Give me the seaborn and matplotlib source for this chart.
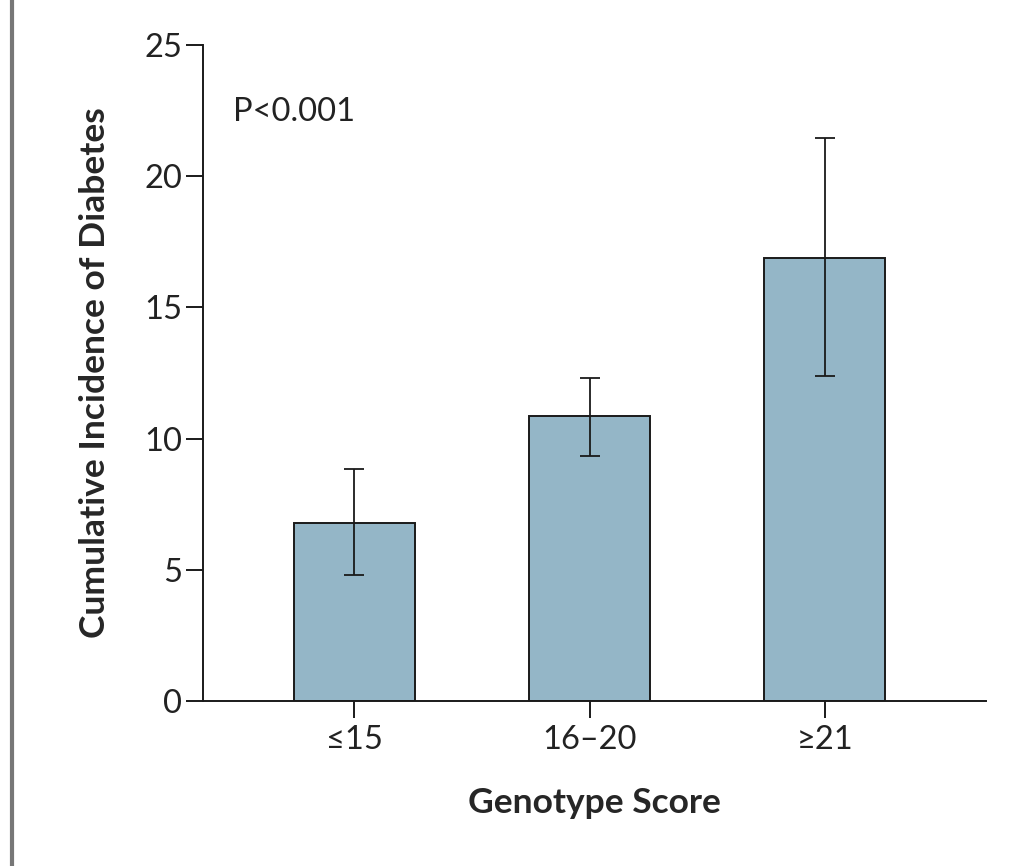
import numpy as np
import pandas as pd
import matplotlib.pyplot as plt
import seaborn as sns
from matplotlib.lines import Line2D

# dati
categorie = ['≤15', '16–20', '≥21']
incidenza = [6.8, 10.85, 16.9]
err_basso = [4.8, 9.35, 12.4]
err_alto = [8.85, 12.3, 21.45]

df = pd.DataFrame({'punteggio': categorie, 'incidenza': incidenza})

sns.set_style('white')
plt.rcParams['font.family'] = ['Lato', 'DejaVu Sans']

fig = plt.figure(figsize=(10.09, 8.66), dpi=100)
ax = fig.add_axes([203/1009, 1-701/866, 783/1009, 656/866])

sns.barplot(data=df, x='punteggio', y='incidenza', color='#94b6c7',
            width=0.515, edgecolor='#1a1a1a', linewidth=1.4, saturation=1,
            errorbar=None, ax=ax)

# barre di errore
y = np.array(incidenza)
yerr = [y - np.array(err_basso), np.array(err_alto) - y]
ax.errorbar(np.arange(len(categorie)), y, yerr=yerr, fmt='none',
            ecolor='#1a1a1a', elinewidth=1.3, capsize=7.5, capthick=1.3)

ax.set_xlim(-0.643, 2.685)
ax.set_ylim(0, 25)
ax.set_yticks([0, 5, 10, 15, 20, 25])

sns.despine(ax=ax)
for s in ['left', 'bottom']:
    ax.spines[s].set_linewidth(1.4)
    ax.spines[s].set_color('#1a1a1a')

ax.tick_params(axis='both', bottom=True, left=True, direction='out',
               length=12, width=1.4, color='#1a1a1a', labelsize=23.5,
               labelcolor='#222222', pad=3)
ax.tick_params(axis='x', pad=5)

ax.set_xlabel('Genotype Score', fontsize=25.5, fontweight='bold', labelpad=23)
ax.set_ylabel('Cumulative Incidence of Diabetes', fontsize=25.5,
              fontweight='bold', labelpad=24)

ax.text(0.038, 0.898, 'P<0.001', transform=ax.transAxes, fontsize=23.5,
        color='#222222', va='center', ha='left')

# barra grigia a sinistra
fig.add_artist(Line2D([12/1009, 12/1009], [0, 1], color='#777777',
                      linewidth=3, transform=fig.transFigure))

plt.savefig('out.png', dpi=100)
